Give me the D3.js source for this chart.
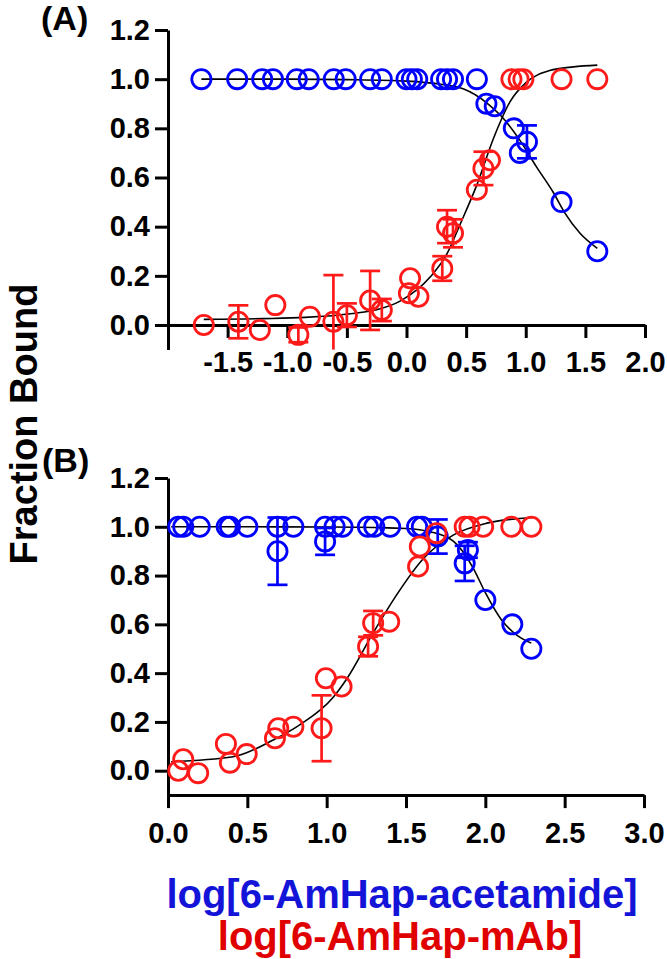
<!DOCTYPE html>
<html>
<head>
<meta charset="utf-8">
<script src="https://cdn.jsdelivr.net/npm/d3@7"></script>
<style>
  html, body { margin: 0; padding: 0; background: #fff; }
  svg { display: block; }
  text { font-family: Arial, "Liberation Sans", sans-serif; font-weight: bold; }
</style>
</head>
<body>
<svg id="chart" width="667" height="959"></svg>
<script>
// ---------- DATA ----------
const yTicks = [0, 0.2, 0.4, 0.6, 0.8, 1.0, 1.2];
const xTicksA = [-1.5, -1.0, -0.5, 0.0, 0.5, 1.0, 1.5, 2.0];
const xTicksB = [0.0, 0.5, 1.0, 1.5, 2.0, 2.5, 3.0];

// Panel A – acetamide (blue)
const A_ace_x   = [-1.72,-1.42,-1.21,-1.12,-0.92,-0.82,-0.61,-0.51,-0.305,-0.207,0.0,0.045,0.09,0.29,0.34,0.39,0.59,0.67,0.74,0.90,1.01,0.95,1.30,1.60];
const A_ace_y   = [1,1,1,1,1,1,1,1,1,1,1,1,1,1,1,1,1,0.90,0.89,0.80,0.745,0.70,0.50,0.30];
const A_ace_err = [0,0,0,0,0,0,0,0,0,0,0,0,0,0,0,0,0,0,0,0,0.067,0,0,0];

// Panel A – mAb (red)
const A_mab_x   = [-1.70,-1.41,-1.23,-1.10,-0.907,-0.81,-0.613,-0.50,-0.305,-0.207,0.02,0.03,0.10,0.30,0.34,0.39,0.59,0.645,0.70,0.88,0.94,0.98,1.30,1.60];
const A_mab_y   = [0.0,0.013,-0.02,0.081,-0.04,0.034,0.013,0.04,0.10,0.061,0.129,0.19,0.115,0.23,0.40,0.373,0.55,0.637,0.67,1,1,1,1,1];
const A_mab_err = [0,0.067,0,0,0.03,0,0.19,0.048,0.12,0.045,0,0,0,0.05,0.067,0.057,0,0.068,0,0,0,0,0,0];

// Panel A – fitted curves
const A_fitAce_x = [-1.72,-1.0,-0.5,0.0,0.3,0.48,0.67,0.8,0.95,1.09,1.23,1.33,1.455,1.6];
const A_fitAce_y = [1.0,1.0,0.998,0.992,0.978,0.96,0.905,0.847,0.752,0.643,0.54,0.454,0.373,0.312];
const A_fitMab_x = [-1.70,-1.2,-0.85,-0.45,-0.25,-0.05,0.2,0.34,0.45,0.59,0.73,0.87,1.0,1.2,1.4,1.6];
const A_fitMab_y = [0.023,0.026,0.031,0.047,0.062,0.098,0.196,0.29,0.41,0.57,0.76,0.91,0.985,1.035,1.05,1.057];

// Panel B – acetamide (blue)
const B_ace_x   = [0.065,0.096,0.20,0.37,0.39,0.50,0.69,0.69,0.79,0.99,0.99,1.05,1.10,1.26,1.30,1.40,1.57,1.60,1.70,1.89,1.87,2.0,2.17,2.29];
const B_ace_y   = [1,1,1,1,1,1,1,0.90,1,1,0.94,1,1,1,1,1,1,1,0.96,0.905,0.85,0.70,0.60,0.50];
const B_ace_err = [0,0,0,0,0,0,0,0.138,0,0,0.055,0,0,0,0,0,0,0,0.07,0.032,0.072,0,0,0];

// Panel B – mAb (red)
const B_mab_x   = [0.065,0.096,0.19,0.365,0.39,0.496,0.674,0.695,0.79,0.968,0.995,1.094,1.261,1.293,1.394,1.576,1.587,1.692,1.87,1.90,1.986,2.164,2.29];
const B_mab_y   = [0.0,0.047,-0.01,0.11,0.033,0.068,0.133,0.174,0.18,0.174,0.379,0.345,0.509,0.605,0.611,0.837,0.919,0.974,1,1,1,1,1];
const B_mab_err = [0,0,0,0,0,0,0,0,0,0.135,0,0,0.04,0.05,0,0,0,0,0,0,0,0,0];

// Panel B – fitted curves
const B_fitAce_x = [0.02,0.5,1.0,1.3,1.5,1.65,1.8,1.92,2.0,2.1,2.2,2.29];
const B_fitAce_y = [1.0,1.0,0.999,0.997,0.993,0.98,0.94,0.835,0.73,0.62,0.555,0.523];
const B_fitMab_x = [0.02,0.41,0.663,0.83,1.04,1.125,1.293,1.44,1.61,1.80,2.01,2.30];
const B_fitMab_y = [0.037,0.057,0.126,0.188,0.30,0.375,0.565,0.72,0.87,0.967,1.015,1.038];

// ---------- DRAW ----------
const svg = d3.select("#chart");
const BLUE = "#0000ff", RED = "#ff1a1a";
const fmt = d => d.toFixed(1);

function zip(xs, ys, es) { return xs.map((x, i) => ({x, y: ys[i], e: es ? es[i] : 0})); }

function panel(cfg) {
  const g = svg.append("g");
  const x = d3.scaleLinear().domain(cfg.xDomain).range(cfg.xRange);
  const y = d3.scaleLinear().domain([-0.1, 1.2]).range(cfg.yRange);

  const ya = g.append("g").attr("transform", `translate(${cfg.xRange[0]},0)`)
    .call(d3.axisLeft(y).tickValues(yTicks).tickFormat(fmt).tickSize(13).tickSizeOuter(0).tickPadding(5));
  const xa = g.append("g").attr("transform", `translate(0,${y(cfg.xAxisAt)})`)
    .call(d3.axisBottom(x).tickValues(cfg.xTicks).tickFormat(fmt).tickSize(13).tickSizeOuter(0).tickPadding(cfg.xPad));
  [ya, xa].forEach(a => {
    a.select(".domain").attr("stroke", "#000").attr("stroke-width", 3);
    a.selectAll(".tick line").attr("stroke", "#000").attr("stroke-width", 3);
    a.selectAll(".tick text").attr("fill", "#000").style("font-size", "29px").style("font-family", "Arial, 'Liberation Sans', sans-serif").style("font-weight", "bold");
  });

  const line = d3.line().x(d => x(d.x)).y(d => y(d.y)).curve(d3.curveMonotoneX);
  cfg.fits.forEach(f => {
    g.append("path").datum(zip(f.x, f.y)).attr("d", line)
      .attr("fill", "none").attr("stroke", "#000").attr("stroke-width", 1.6);
  });

  cfg.series.forEach(s => {
    const pts = zip(s.x, s.y, s.e);
    const eb = g.append("g").attr("stroke", s.color).attr("stroke-width", 2.7).attr("fill", "none");
    pts.filter(d => d.e > 0).forEach(d => {
      const lo = Math.max(d.y - d.e, -0.1), hi = Math.min(d.y + d.e, 1.2);
      eb.append("line").attr("x1", x(d.x)).attr("x2", x(d.x)).attr("y1", y(lo)).attr("y2", y(hi));
      eb.append("line").attr("x1", x(d.x) - 10).attr("x2", x(d.x) + 10).attr("y1", y(hi)).attr("y2", y(hi));
      if (d.y - d.e > -0.1)
        eb.append("line").attr("x1", x(d.x) - 10).attr("x2", x(d.x) + 10).attr("y1", y(lo)).attr("y2", y(lo));
    });
    g.append("g").selectAll("circle").data(pts).join("circle")
      .attr("cx", d => x(d.x)).attr("cy", d => y(d.y)).attr("r", 9.6)
      .attr("fill", "none").attr("stroke", s.color).attr("stroke-width", 2.8);
  });

  g.append("text").attr("x", cfg.labelX).attr("y", cfg.labelY).text(cfg.label)
    .style("font-size", "34px").attr("fill", "#000");
}

panel({
  xDomain: [-2, 2], xRange: [168, 645], yRange: [349.6, 30], xAxisAt: 0, xTicks: xTicksA, xPad: 13,
  fits: [{x: A_fitAce_x, y: A_fitAce_y}, {x: A_fitMab_x, y: A_fitMab_y}],
  series: [{x: A_ace_x, y: A_ace_y, e: A_ace_err, color: BLUE}, {x: A_mab_x, y: A_mab_y, e: A_mab_err, color: RED}],
  label: "(A)", labelX: 41, labelY: 30
});
panel({
  xDomain: [0, 3], xRange: [168, 644], yRange: [795.1, 478], xAxisAt: -0.1, xTicks: xTicksB, xPad: 14,
  fits: [{x: B_fitAce_x, y: B_fitAce_y}, {x: B_fitMab_x, y: B_fitMab_y}],
  series: [{x: B_ace_x, y: B_ace_y, e: B_ace_err, color: BLUE}, {x: B_mab_x, y: B_mab_y, e: B_mab_err, color: RED}],
  label: "(B)", labelX: 42, labelY: 472
});

// Y title
svg.append("text").attr("transform", "translate(37,424) rotate(-90)")
  .attr("text-anchor", "middle").style("font-size", "38px").attr("fill", "#000").text("Fraction Bound");

// X titles
svg.append("text").attr("x", 402).attr("y", 908).attr("text-anchor", "middle")
  .style("font-size", "40px").attr("fill", "#1414d8").text("log[6-AmHap-acetamide]");
svg.append("text").attr("x", 400).attr("y", 950).attr("text-anchor", "middle")
  .style("font-size", "40px").attr("fill", "#e00000").text("log[6-AmHap-mAb]");
</script>
</body>
</html>
